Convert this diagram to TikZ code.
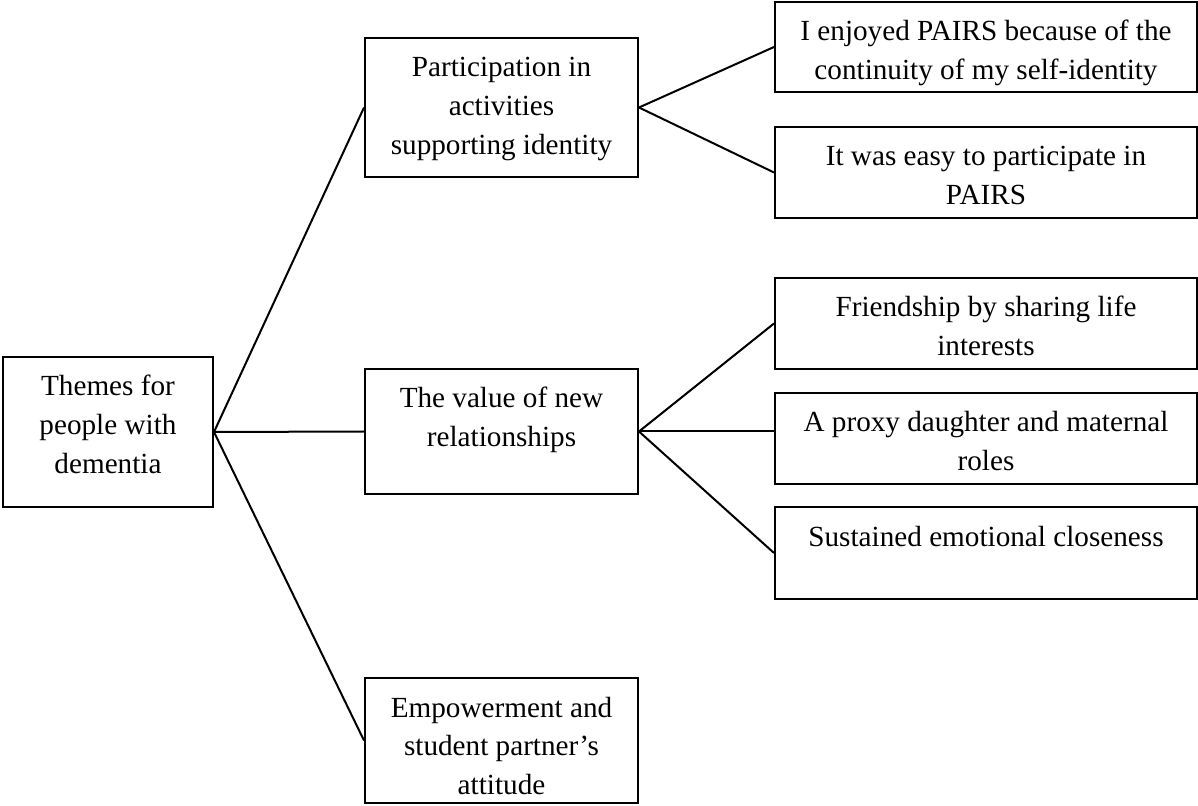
\documentclass[tikz,border=0pt]{standalone}
\usepackage{fontspec}
\setmainfont{Liberation Serif}
% text of a box: width, height, lines (hung from the top)
\newcommand{\cell}[3]{\parbox[c][#2][t]{#1}{\centering\rule{0pt}{19.5pt}#3}}
\begin{document}
\begin{tikzpicture}[x=0.5pt,y=-0.5pt]
% node style definition
\tikzstyle{block} = [
	draw, line width=1pt, rectangle,
	inner sep=0pt, font=\fontsize{14.6}{19.3}\selectfont ];
\tikzstyle{link} = [line width=1pt];
% width of the middle and right columns
\def\wm{136.5pt}
\def\wr{211pt}
% page size
\useasboundingbox (0,0) rectangle (1198,806);

\node[block] (root) at (108,432)
	{\cell{105pt}{75pt}{Themes for\\people with\\dementia}};

\node[block] (mid1) at (501.5,107.5)
	{\cell{\wm}{69.5pt}{Participation in\\activities\\supporting identity}};
\node[block] (mid2) at (501.5,431.5)
	{\cell{\wm}{62.5pt}{The value of new\\relationships}};
\node[block] (mid3) at (501.5,740.5)
	{\cell{\wm}{62.5pt}{Empowerment and\\student partner’s\\attitude}};

\node[block] (r1) at (986,47)
	{\cell{\wr}{45pt}{I enjoyed PAIRS because of the\\continuity of my self-identity}};
\node[block] (r2) at (986,172.5)
	{\cell{\wr}{45.5pt}{It was easy to participate in\\PAIRS}};
\node[block] (r3) at (986,323.5)
	{\cell{\wr}{45.5pt}{Friendship by sharing life\\interests}};
\node[block] (r4) at (986,438.5)
	{\cell{\wr}{45.5pt}{A proxy daughter and maternal\\roles}};
\node[block] (r5) at (986,553)
	{\cell{\wr}{46pt}{Sustained emotional closeness}};

% connectors
\draw[link] (root.east) -- (mid1.west);
\draw[link] (root.east) -- (mid2.west);
\draw[link] (root.east) -- (mid3.west);

\draw[link] (mid1.east) -- (r1.west);
\draw[link] (mid1.east) -- (r2.west);

\draw[link] (mid2.east) -- (r3.west);
\draw[link] (mid2.east) -- (mid2.east -| r4.west);
\draw[link] (mid2.east) -- (r5.west);
\end{tikzpicture}
\end{document}
